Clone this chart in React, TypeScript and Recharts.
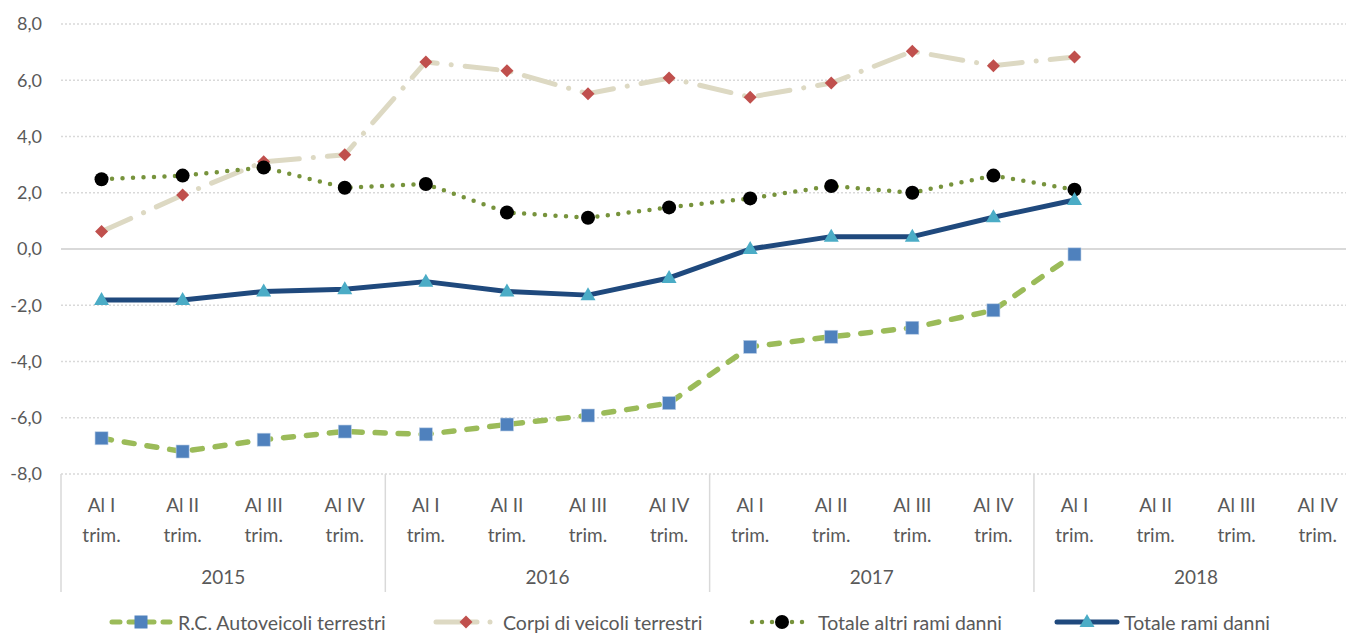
import { LineChart, Line, XAxis, YAxis, CartesianGrid, ReferenceLine, Legend } from 'recharts';

// ---- data ----
const years = ['2015', '2016', '2017', '2018'];
const quarterNames = ['Al I', 'Al II', 'Al III', 'Al IV'];

const rcAutoveicoli = [-6.73, -7.2, -6.78, -6.49, -6.59, -6.24, -5.92, -5.48, -3.48, -3.12, -2.8, -2.18, -0.19, null, null, null];
const corpiVeicoli = [0.62, 1.92, 3.1, 3.35, 6.65, 6.34, 5.52, 6.08, 5.4, 5.9, 7.03, 6.52, 6.83, null, null, null];
const totaleAltri = [2.48, 2.61, 2.9, 2.18, 2.31, 1.3, 1.11, 1.48, 1.8, 2.24, 2.0, 2.61, 2.11, null, null, null];
const totaleRami = [-1.81, -1.81, -1.51, -1.43, -1.16, -1.51, -1.64, -1.03, 0.0, 0.44, 0.44, 1.13, 1.74, null, null, null];

const yTicks = [-8, -6, -4, -2, 0, 2, 4, 6, 8];

const categories = years.flatMap((y) => quarterNames.map((q) => ({ year: y, quarter: q })));

const data = categories.map((c, i) => ({
  key: `${c.year}-${c.quarter}`,
  rc: rcAutoveicoli[i],
  corpi: corpiVeicoli[i],
  altri: totaleAltri[i],
  rami: totaleRami[i],
}));

// ---- layout ----
// the original plot runs a little past the right edge of the picture
const VIEW_W = 1346;
const H = 633;
const Y_AXIS_W = 61;
const STEP = 81.08;
const W = Y_AXIS_W + STEP * categories.length;
const X_AXIS_H = 123;
const LEGEND_H = 36;

const FONT = 'Lato, "Open Sans", sans-serif';
const TEXT = '#595959';
const GRID = '#D9D9D9';

const fmt = (v: number) => v.toFixed(1).replace('.', ',');

function QuarterTick(props: any) {
  const { x, y, payload } = props;
  const i = payload.index;
  const c = categories[i];
  const q = i % quarterNames.length;
  return (
    <g>
      <text x={x} y={y + 38} textAnchor="middle" fontSize={19} fill={TEXT} fontFamily={FONT}>
        {c.quarter}
      </text>
      <text x={x} y={y + 68} textAnchor="middle" fontSize={19} fill={TEXT} fontFamily={FONT}>
        trim.
      </text>
      {q === 0 && (
        <>
          <line x1={x - STEP / 2} x2={x - STEP / 2} y1={y} y2={y + 118} stroke={GRID} strokeWidth={1.5} />
          <text x={x + STEP * 1.5} y={y + 110} textAnchor="middle" fontSize={19} fill={TEXT} fontFamily={FONT}>
            {c.year}
          </text>
        </>
      )}
      {i === categories.length - 1 && (
        <line x1={x + STEP / 2} x2={x + STEP / 2} y1={y} y2={y + 118} stroke={GRID} strokeWidth={1.5} />
      )}
    </g>
  );
}

const SquareDot = (p: any) =>
  p.value == null ? null : (
    <rect x={p.cx - 6.5} y={p.cy - 6.5} width={13} height={13} fill="#4F81BD" stroke="#B9CDE5" strokeWidth={0.6} />
  );
const DiamondDot = (p: any) =>
  p.value == null ? null : (
    <path d={`M${p.cx},${p.cy - 6.5}L${p.cx + 6.5},${p.cy}L${p.cx},${p.cy + 6.5}L${p.cx - 6.5},${p.cy}Z`} fill="#C0504D" />
  );
const CircleDot = (p: any) =>
  p.value == null ? null : <circle cx={p.cx} cy={p.cy} r={7} fill="#000000" />;
const TriangleDot = (p: any) =>
  p.value == null ? null : (
    <path d={`M${p.cx},${p.cy - 8}L${p.cx + 7.5},${p.cy + 5}L${p.cx - 7.5},${p.cy + 5}Z`} fill="#4BACC6" />
  );

const legendItems = [
  { name: 'R.C. Autoveicoli terrestri', width: 325 },
  { name: 'Corpi di veicoli terrestri', width: 315 },
  { name: 'Totale altri rami danni', width: 306 },
  { name: 'Totale rami danni', width: 240 },
];

function LegendIcon({ i }: { i: number }) {
  return (
    <svg width={66} height={22} style={{ marginRight: 4 }}>
      {i === 0 && (
        <>
          <line x1={4} x2={62} y1={11} y2={11} stroke="#9BBB59" strokeWidth={5} strokeDasharray="8 9" strokeLinecap="round" />
          <rect x={26.5} y={4.5} width={13} height={13} fill="#4F81BD" />
        </>
      )}
      {i === 1 && (
        <>
          <line x1={3} x2={44} y1={11} y2={11} stroke="#DDD9C3" strokeWidth={5} strokeLinecap="round" />
          <circle cx={57} cy={11} r={2.5} fill="#DDD9C3" />
          <path d="M33,4.5L39.5,11L33,17.5L26.5,11Z" fill="#C0504D" />
        </>
      )}
      {i === 2 && (
        <>
          <line x1={4} x2={64} y1={11} y2={11} stroke="#77933C" strokeWidth={4.5} strokeDasharray="0 10" strokeLinecap="round" />
          <circle cx={34} cy={11} r={7} fill="#000" />
        </>
      )}
      {i === 3 && (
        <>
          <line x1={3} x2={63} y1={11} y2={11} stroke="#1F497D" strokeWidth={5} strokeLinecap="round" />
          <path d="M33,3L40.5,16L25.5,16Z" fill="#4BACC6" />
        </>
      )}
    </svg>
  );
}

function ChartLegend() {
  return (
    <div style={{ display: 'flex', height: LEGEND_H, paddingTop: 14, paddingLeft: 108, boxSizing: 'border-box' }}>
      {legendItems.map((it, i) => (
        <div key={it.name} style={{ display: 'flex', alignItems: 'center', width: it.width, height: 22 }}>
          <LegendIcon i={i} />
          <span style={{ fontFamily: FONT, fontSize: 19.5, color: TEXT, whiteSpace: 'nowrap' }}>{it.name}</span>
        </div>
      ))}
    </div>
  );
}

export default function App() {
  return (
    <div style={{ position: 'absolute', left: 0, top: 0, width: VIEW_W, height: H, overflow: 'hidden', background: '#fff' }}>
      <LineChart width={W} height={H} data={data} margin={{ top: 24, right: 0, bottom: 0, left: 0 }}>
        <CartesianGrid vertical={false} stroke={GRID} strokeDasharray="2 2" strokeWidth={1.5} />
        <ReferenceLine y={0} stroke={GRID} strokeWidth={2} />
        <XAxis
          dataKey="key"
          interval={0}
          height={X_AXIS_H}
          padding={{ left: STEP / 2, right: STEP / 2 }}
          axisLine={false}
          tickLine={false}
          tickSize={0}
          tickMargin={0}
          tick={<QuarterTick />}
        />
        <YAxis
          width={Y_AXIS_W}
          domain={[-8, 8]}
          ticks={yTicks}
          tickFormatter={fmt}
          axisLine={false}
          tickLine={false}
          tickSize={0}
          tickMargin={19}
          tick={{ fontSize: 18, fill: TEXT, fontFamily: FONT }}
        />
        <Legend verticalAlign="bottom" height={LEGEND_H} content={() => <ChartLegend />} />
        <Line
          dataKey="rc"
          name="R.C. Autoveicoli terrestri"
          stroke="#9BBB59"
          strokeWidth={5.5}
          strokeDasharray="10 13"
          strokeLinecap="round"
          dot={<SquareDot />}
          isAnimationActive={false}
        />
        <Line
          dataKey="corpi"
          name="Corpi di veicoli terrestri"
          stroke="#DDD9C3"
          strokeWidth={5}
          strokeDasharray="32 14 0.1 14"
          strokeLinecap="round"
          dot={<DiamondDot />}
          isAnimationActive={false}
        />
        <Line
          dataKey="altri"
          name="Totale altri rami danni"
          stroke="#77933C"
          strokeWidth={4.5}
          strokeDasharray="0 10.5"
          strokeLinecap="round"
          dot={<CircleDot />}
          isAnimationActive={false}
        />
        <Line
          dataKey="rami"
          name="Totale rami danni"
          stroke="#1F497D"
          strokeWidth={5}
          strokeLinejoin="round"
          dot={<TriangleDot />}
          isAnimationActive={false}
        />
      </LineChart>
    </div>
  );
}
